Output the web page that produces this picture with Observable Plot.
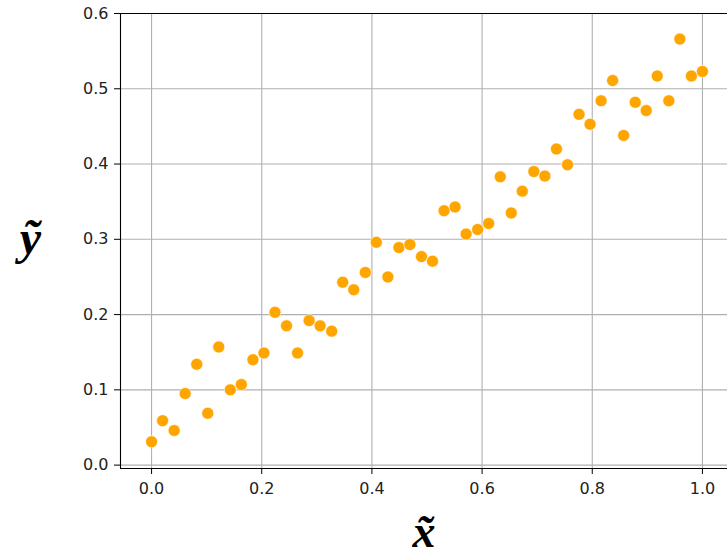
<!DOCTYPE html>
<html>
<head>
<meta charset="utf-8">
<script src="https://cdn.jsdelivr.net/npm/d3@7"></script>
<script src="https://cdn.jsdelivr.net/npm/@observablehq/plot@0.6"></script>
<style>
  html, body { margin: 0; padding: 0; background: #fff; }
  #chart svg { display: block; }
</style>
</head>
<body>
<div id="chart"></div>
<script>
const xValues = [0.000, 0.020, 0.041, 0.061, 0.082, 0.102, 0.122, 0.143, 0.163, 0.184,
                 0.204, 0.224, 0.245, 0.265, 0.286, 0.306, 0.327, 0.347, 0.367, 0.388,
                 0.408, 0.429, 0.449, 0.469, 0.490, 0.510, 0.531, 0.551, 0.571, 0.592,
                 0.612, 0.633, 0.653, 0.673, 0.694, 0.714, 0.735, 0.755, 0.776, 0.796,
                 0.816, 0.837, 0.857, 0.878, 0.898, 0.918, 0.939, 0.959, 0.980, 1.000];
const yValues = [0.031, 0.059, 0.046, 0.095, 0.134, 0.069, 0.157, 0.100, 0.107, 0.140,
                 0.149, 0.203, 0.185, 0.149, 0.192, 0.185, 0.178, 0.243, 0.233, 0.256,
                 0.296, 0.250, 0.289, 0.293, 0.277, 0.271, 0.338, 0.343, 0.307, 0.313,
                 0.321, 0.383, 0.335, 0.364, 0.390, 0.384, 0.420, 0.399, 0.466, 0.453,
                 0.484, 0.511, 0.438, 0.482, 0.471, 0.517, 0.484, 0.566, 0.517, 0.523];
const xTicks = [0.0, 0.2, 0.4, 0.6, 0.8, 1.0];
const yTicks = [0.0, 0.1, 0.2, 0.3, 0.4, 0.5, 0.6];
const xDomain = [-0.0564, 1.0455];
const yDomain = [-0.0045, 0.6];
const xLabel = "x\u0303";
const yLabel = "y\u0303";

const points = xValues.map((x, i) => ({x, y: yValues[i]}));
const fmt = d3.format(".1f");

const chart = Plot.plot({
  width: 727,
  height: 557,
  marginLeft: 120,
  marginRight: 0,
  marginTop: 13,
  marginBottom: 89,
  style: {fontFamily: "DejaVu Sans", fontSize: "16px", background: "#fff", color: "#000"},
  x: {domain: xDomain},
  y: {domain: yDomain},
  marks: [
    Plot.gridX(xTicks, {stroke: "#b0b0b0", strokeOpacity: 1, strokeWidth: 1.1}),
    Plot.gridY(yTicks, {stroke: "#b0b0b0", strokeOpacity: 1, strokeWidth: 1.1}),
    Plot.dot(points, {x: "x", y: "y", r: 6, fill: "#FFA500", stroke: "#fff", strokeWidth: 0.6}),
    Plot.ruleX([xDomain[0]], {stroke: "#000", strokeWidth: 1.1}),
    Plot.ruleY([yDomain[0], yDomain[1]], {stroke: "#000", strokeWidth: 1.1}),
    Plot.axisX({ticks: xTicks, tickFormat: fmt, tickSize: 6, tickPadding: 8, label: null, stroke: "#000", fill: "#222"}),
    Plot.axisY({ticks: yTicks, tickFormat: fmt, tickSize: 6, tickPadding: 6, label: null, stroke: "#000", fill: "#222"}),
    Plot.text([xLabel], {frameAnchor: "bottom", dy: 64, text: d => d, fontFamily: "Liberation Serif", fontStyle: "italic", fontWeight: "bold", fontSize: 46, fill: "#000", lineAnchor: "middle", textAnchor: "middle"}),
    Plot.text([yLabel], {frameAnchor: "left", dx: -90, dy: -2, text: d => d, fontFamily: "Liberation Serif", fontStyle: "italic", fontWeight: "bold", fontSize: 48, fill: "#000", lineAnchor: "middle", textAnchor: "middle"})
  ]
});
document.getElementById("chart").appendChild(chart);
</script>
</body>
</html>
